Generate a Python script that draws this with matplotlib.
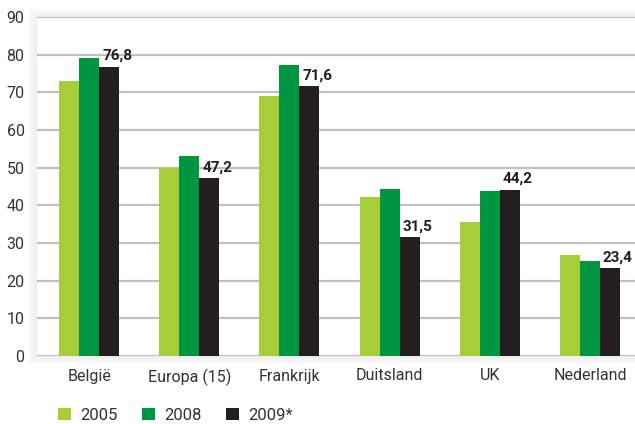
import matplotlib.pyplot as plt
import numpy as np
from matplotlib.patches import Rectangle, Patch

plt.rcParams['font.family'] = ['Roboto', 'DejaVu Sans']

landen = ['België', 'Europa (15)', 'Frankrijk', 'Duitsland', 'UK', 'Nederland']
jaren = ['2005', '2008', '2009*']
w2005 = [72.9, 49.9, 69.1, 42.1, 35.7, 26.9]
w2008 = [79.2, 53.1, 77.3, 44.3, 43.7, 25.1]
w2009 = [76.8, 47.2, 71.6, 31.5, 44.2, 23.4]
kleuren = ['#a8cd3a', '#009540', '#231f20']

fig = plt.figure(figsize=(6.35, 4.24), dpi=100)
ax = fig.add_axes([37 / 635, 1 - 356 / 424, 598 / 635, 339 / 424])

# zachte schaduw rond het witte vlak
for i in range(1, 10):
    fig.patches.append(Rectangle((37 / 635 - i / 635, 1 - (356 + i) / 424),
                                 (598 + 2 * i) / 635, (339 + 2 * i) / 424,
                                 transform=fig.transFigure, facecolor='#000000',
                                 alpha=0.009, edgecolor='none', zorder=-1))

x = np.arange(len(landen))
bw = 0.2
series = [w2005, w2008, w2009]
for i, (vals, kleur) in enumerate(zip(series, kleuren)):
    ax.bar(x + (i - 1) * bw, vals, width=bw, color=kleur, zorder=3, label=jaren[i])

for xi, v in zip(x, w2009):
    ax.text(xi + bw / 2 + 0.03, v + 1.0, f'{v:.1f}'.replace('.', ','),
            ha='left', va='bottom', fontsize=11, fontweight='bold', color='#231f20')

ax.set_xlim(-0.52, 5.45)
ax.set_ylim(0, 90)
ax.set_yticks(range(0, 100, 10))
ax.yaxis.grid(True, color='#c0c0c0', linewidth=1.6, zorder=0)
ax.set_axisbelow(True)
ax.set_xticks(x)
ax.set_xticklabels(landen)
ax.tick_params(length=0, labelsize=11.5, colors='#333333')
ax.tick_params(axis='y', pad=9)
ax.tick_params(axis='x', pad=9)
for s in ax.spines.values():
    s.set_visible(False)

handles = [Patch(facecolor=k, edgecolor='none') for k in kleuren]
fig.legend(handles, jaren, loc='lower left', bbox_to_anchor=(0.068, -0.032), ncol=3,
           frameon=False, fontsize=12, handlelength=0.75, handleheight=0.75,
           handletextpad=0.55, columnspacing=1.5, labelcolor='#333333')

fig.savefig('out.png', dpi=100, facecolor='white')
